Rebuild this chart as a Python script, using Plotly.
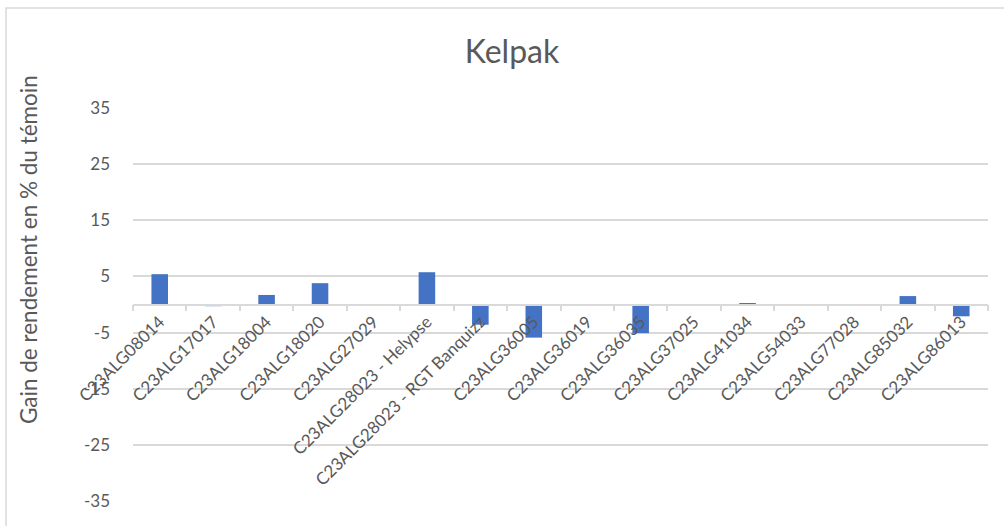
import plotly.graph_objects as go

categories = [
    "C23ALG08014", "C23ALG17017", "C23ALG18004", "C23ALG18020", "C23ALG27029",
    "C23ALG28023 - Helypse", "C23ALG28023 - RGT Banquizz", "C23ALG36005",
    "C23ALG36019", "C23ALG36035", "C23ALG37025", "C23ALG41034", "C23ALG54033",
    "C23ALG77028", "C23ALG85032", "C23ALG86013",
]
values = [5.4, -0.3, 1.7, 3.8, 0.0, 5.75, -3.6, -5.9, 0.0, -5.1, 0.0, 0.1, 0.0, 0.0, 1.5, -2.1]
y_ticks = [-35, -25, -15, -5, 5, 15, 25, 35]

W, H = 1004, 526
L, R, T, B = 133, 16, 108, 25
pw, ph = W - L - R, H - T - B

grey = "#595959"
grid = "#d9d9d9"
font_family = "Lato, 'Open Sans', sans-serif"

fig = go.Figure(go.Bar(x=categories, y=values, marker=dict(color="#4472C4", line=dict(width=0))))

fig.update_layout(
    width=W, height=H,
    margin=dict(l=L, r=R, t=T, b=B, autoexpand=False),
    paper_bgcolor="white", plot_bgcolor="white",
    bargap=0.69,
    showlegend=False,
    font=dict(family=font_family, color=grey),
    title=dict(text="Kelpak", x=512 / W, xref="container", xanchor="center",
               y=1 - 52 / H, yref="container", yanchor="middle",
               font=dict(size=32, color=grey, family=font_family)),
    xaxis=dict(
        type="category", anchor="free", position=0.5,
        showgrid=False, showline=True, linecolor=grid, linewidth=1.5,
        ticks="outside", tickson="boundaries", ticklen=6, tickcolor=grid, tickwidth=1.5,
        tickangle=-45, tickfont=dict(size=17, color=grey),
        zeroline=False,
    ),
    yaxis=dict(
        range=[-35, 35], tickvals=y_ticks, ticktext=[str(v) for v in y_ticks],
        showgrid=True, gridcolor=grid, gridwidth=1.5, zeroline=False,
        showline=False, ticks="", tickfont=dict(size=17, color=grey),
        ticklabelstandoff=22,
    ),
)

fig.add_annotation(text="Gain de rendement en % du témoin", textangle=-90,
                   xref="paper", yref="paper", x=(28 - L) / pw, y=(H - B - 250) / ph,
                   xanchor="center", yanchor="middle", showarrow=False,
                   font=dict(size=22.5, color=grey, family=font_family))

x0 = (6 - L) / pw
x1 = (W + 10 - L) / pw
y1 = (H - B - 8) / ph
y0 = (H - B - (H + 10)) / ph
fig.add_shape(type="rect", xref="paper", yref="paper", x0=x0, x1=x1, y0=y0, y1=y1,
              line=dict(color=grid, width=1.5), fillcolor="rgba(0,0,0,0)", layer="above")

fig.write_html("out.html", config={"displayModeBar": False},
               post_script="document.body.style.margin='0';document.body.style.overflow='hidden';")
